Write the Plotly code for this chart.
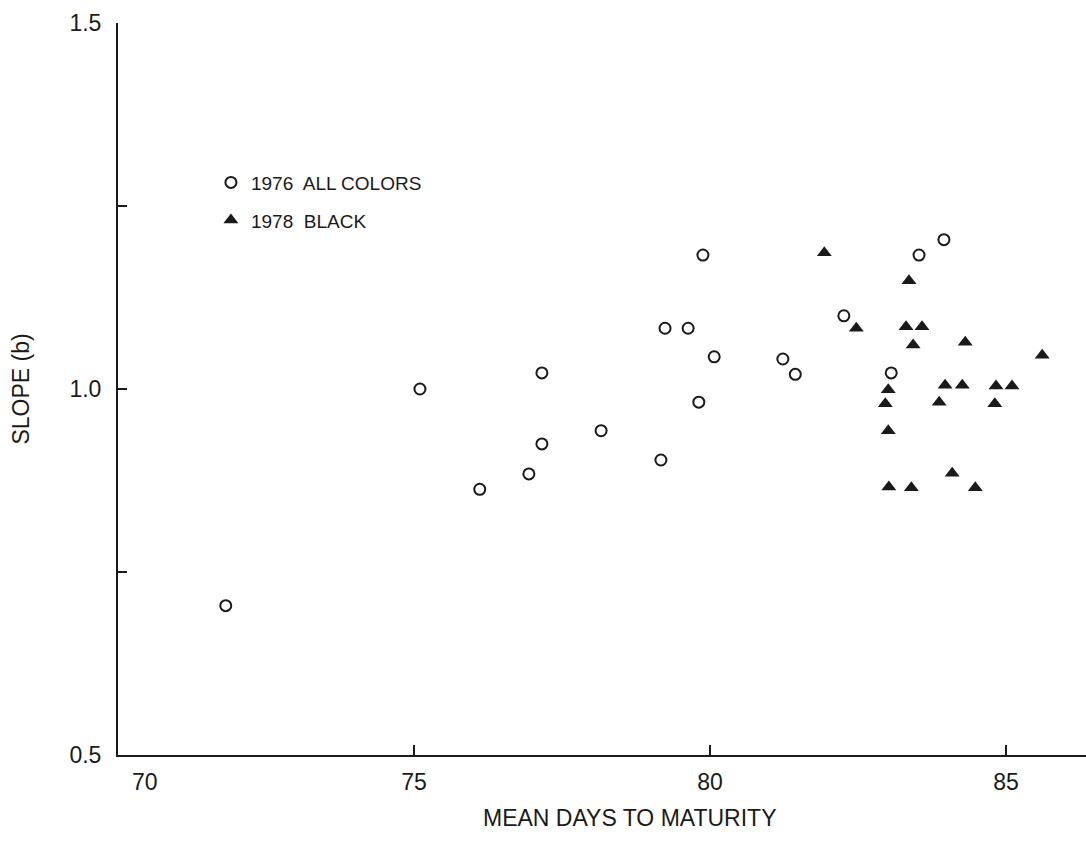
import plotly.graph_objects as go

# 1976, all seed-coat colours: mean days to maturity vs. regression slope
days_1976 = [71.82, 75.10, 76.11, 76.94, 77.16, 77.16, 78.16, 79.17, 79.24, 79.63,
             79.81, 79.88, 80.07, 81.23, 81.44, 82.26, 83.06, 83.53, 83.95]
slope_1976 = [0.704, 1.000, 0.863, 0.884, 1.022, 0.925, 0.943, 0.903, 1.083, 1.083,
              0.982, 1.183, 1.044, 1.041, 1.020, 1.100, 1.022, 1.183, 1.204]

# 1978, black seed coat
days_1978 = [81.93, 82.47, 83.36, 83.31, 83.58, 83.43, 84.31, 85.61, 83.01, 83.97, 84.26,
             84.83, 85.10, 82.96, 83.87, 84.81, 83.01, 84.09, 83.02, 83.40, 84.48]
slope_1978 = [1.186, 1.083, 1.148, 1.085, 1.085, 1.060, 1.064, 1.046, 0.999, 1.005, 1.005,
              1.004, 1.004, 0.980, 0.982, 0.980, 0.943, 0.885, 0.866, 0.865, 0.865]

x_ticks = [75, 80, 85]
y_ticks = [0.5, 0.75, 1.0, 1.25, 1.5]
y_tick_text = ["0.5", "", "1.0", "", "1.5"]

FONT = "Liberation Sans, Arial, sans-serif"
INK = "#1a1a1a"
TICK_SIZE = 23
TITLE_SIZE = 23

fig = go.Figure()
fig.add_trace(go.Scatter(
    x=days_1976, y=slope_1976, mode="markers", name="1976  ALL COLORS",
    legendgroup="a",
    marker=dict(symbol="circle-open", size=11, color=INK, line=dict(width=2, color=INK)),
))
fig.add_trace(go.Scatter(
    x=days_1978, y=slope_1978, mode="markers", name="1978  BLACK",
    legendgroup="b",
    marker=dict(symbol="triangle-up", size=13, color=INK, line=dict(width=0)),
))

# the "70" label sits a little right of the corner
fig.add_annotation(x=70.45, y=0, xref="x", yref="paper", yanchor="top", yshift=-12,
                   text="70", showarrow=False, font=dict(family=FONT, size=TICK_SIZE, color=INK))

# x-axis title, set slightly right of the plot centre
fig.add_annotation(x=0.529, y=0, xref="paper", yref="paper", yanchor="middle", yshift=-63,
                   text="MEAN DAYS TO MATURITY", showarrow=False,
                   font=dict(family=FONT, size=TITLE_SIZE, color=INK))

fig.update_layout(
    width=1086, height=854,
    margin=dict(l=118, r=0, t=23, b=99),
    paper_bgcolor="white", plot_bgcolor="white",
    font=dict(family=FONT, size=19, color=INK),
    showlegend=True,
    legend=dict(x=0.096, y=0.808, xanchor="left", yanchor="top",
                bgcolor="rgba(0,0,0,0)", itemwidth=30, tracegroupgap=10,
                font=dict(family=FONT, size=19, color=INK)),
    xaxis=dict(range=[70, 86.35], showgrid=False, zeroline=False,
               showline=True, linecolor=INK, linewidth=2,
               ticks="inside", ticklen=10, tickwidth=2, tickcolor=INK,
               tickvals=x_ticks, ticktext=[str(v) for v in x_ticks],
               tickfont=dict(family=FONT, size=TICK_SIZE, color=INK),
               ticklabelstandoff=5),
    yaxis=dict(range=[0.5, 1.5], showgrid=False, zeroline=False,
               showline=True, linecolor=INK, linewidth=2,
               ticks="inside", ticklen=9, tickwidth=2, tickcolor=INK,
               tickvals=y_ticks, ticktext=y_tick_text,
               tickfont=dict(family=FONT, size=TICK_SIZE, color=INK),
               ticklabelstandoff=10,
               title=dict(text="SLOPE (b)", standoff=33,
                          font=dict(family=FONT, size=TITLE_SIZE, color=INK))),
)

fig.write_html("out.html")
